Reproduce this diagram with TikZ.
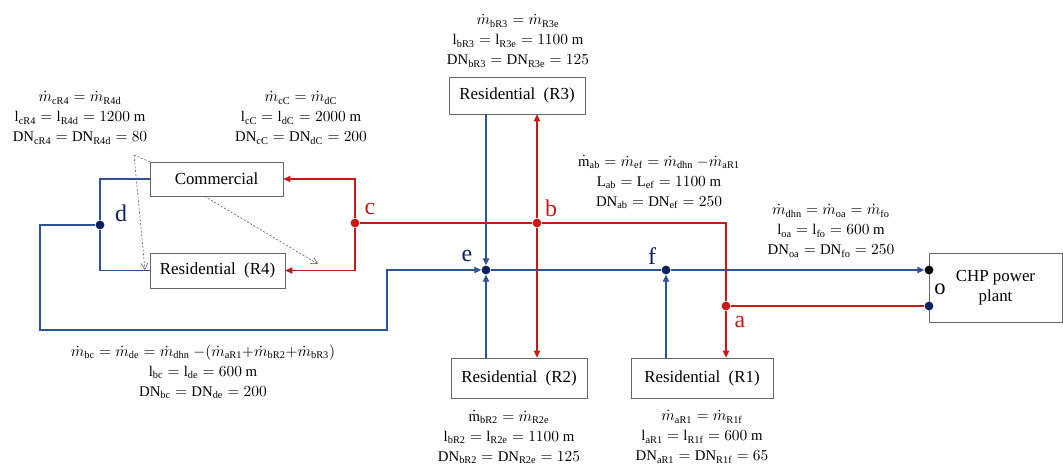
\documentclass[tikz,border=0pt]{standalone}
\usepackage{fontspec}
\setmainfont{Liberation Serif}
\usetikzlibrary{arrows.meta}

\definecolor{retblue}{RGB}{47,82,150}
\definecolor{dotblue}{RGB}{10,32,96}
\definecolor{supred}{RGB}{200,25,25}

% flow, length and diameter symbols
\newcommand{\mflow}[1]{\dot{m}_{\mathrm{#1}}}
\newcommand{\mflowup}[1]{\dot{\mathrm{m}}_{\mathrm{#1}}}
\newcommand{\plen}[1]{\mathrm{l}_{\mathrm{#1}}}
\newcommand{\pdn}[1]{\mathrm{DN}_{\mathrm{#1}}}

\begin{document}
\begin{tikzpicture}[x=0.025cm,y=-0.025cm,
    box/.style={draw=black!60,fill=white,inner sep=0pt,font=\fontsize{12}{14}\selectfont},
    joint/.style={circle,inner sep=0pt,minimum size=0.22cm},
    tag/.style={font=\fontsize{17}{17}\selectfont,inner sep=0pt},
    eqn/.style={align=center,inner sep=0pt,font=\fontsize{10.5}{14.2}\selectfont},
    ret/.style={draw=retblue,line width=0.9pt},
    sup/.style={draw=supred,line width=0.9pt},
    flow/.style={-{Triangle[length=5pt,width=4.5pt]}},
    hint/.style={draw=black!65,dash pattern=on 1.5pt off 1.2pt,line width=0.4pt,-{Straight Barb[length=4.5pt,width=5pt]}}]
        \useasboundingbox (0,0) rectangle (1063,466);
        \def \Boxes{com/216.5/179/3.325/0.85/Commercial, rfour/217.5/270.5/3.375/0.875/{Residential\ \ (R4)}, rthree/517/95.5/3.4/0.925/{Residential\ \ (R3)}, rtwo/519/378/3.4/1.0/{Residential\ \ (R2)}, rone/702/378/3.55/1.0/{Residential\ \ (R1)}}
        \def \Joints{d/100/225/dotblue, e/486/270/dotblue, f/666/270/dotblue, c/355/223/supred, b/537/223/supred, a/726/306/supred, oin/929/270/black, oout/929/306/dotblue}
        \foreach \id / \x / \y / \w / \h / \t in \Boxes{
            \node[box,minimum width=\w cm,minimum height=\h cm] (\id) at (\x, \y) {\t};
        }
        \node[box,minimum width=3.325cm,minimum height=1.725cm,align=center] (chp) at (995.5, 287.5) {CHP power\\plant};
        \foreach \id / \x / \y / \c in \Joints{
            \node[joint,fill=\c] (\id) at (\x, \y) {};
        }

        % junction letters
        \node[tag,text=dotblue] (lbld) at (121, 213) {d};
        \node[tag,text=dotblue] (lble) at (467, 256) {e};
        \node[tag,text=dotblue] (lblf) at (652, 256) {f};
        \node[tag,text=supred] (lblc) at (370, 209) {c};
        \node[tag,text=supred] (lblb) at (551, 208) {b};
        \node[tag,text=supred] (lbla) at (740, 322) {a};
        \node[tag,font=\fontsize{16}{16}\selectfont] (lblo) at (940, 289) {o};

        % return side
        \path[ret] (com.west) -| (d) |- (rfour.west);
        \coordinate (dbend) at (40, 330);
        \coordinate (ebend) at (387, 270);
        \path[ret,flow] (d) -| (dbend) -| (ebend) -- (e);
        \path[ret,flow] (rthree.south -| e) -- (e);
        \path[ret,flow] (rtwo.north -| e) -- (e);
        \path[ret,flow] (rone.north -| f) -- (f);
        \path[ret] (e) -- (f);
        \path[ret,flow] (f) -- (oin);

        % supply side
        \path[sup] (oout) -- (a);
        \path[sup] (a) |- (b) -- (c);
        \path[sup,flow] (a) -- (rone.north -| a);
        \path[sup,flow] (b) -- (rthree.south -| b);
        \path[sup,flow] (b) -- (rtwo.north -| b);
        \path[sup,flow] (c) |- (com.east);
        \path[sup,flow] (c) |- (rfour.east);

        % pipe data
        \node[eqn] (eqrfour) at (80, 118) {$\mflow{cR4} = \mflow{R4d}$\\$\plen{cR4} = \plen{R4d} = 1200\ \mathrm{m}$\\$\pdn{cR4} = \pdn{R4d} = 80$};
        \node[eqn] (eqcom) at (301, 118) {$\mflow{cC} = \mflow{dC}$\\$\plen{cC} = \plen{dC} = 2000\ \mathrm{m}$\\$\pdn{cC} = \pdn{dC} = 200$};
        \node[eqn] (eqrthree) at (518, 41) {$\mflow{bR3} = \mflow{R3e}$\\$\plen{bR3} = \plen{R3e} = 1100\ \mathrm{m}$\\$\pdn{bR3} = \pdn{R3e} = 125$};
        \node[eqn] (eqab) at (659, 182) {$\mflowup{ab} = \mflow{ef} = \mflow{dhn}\ {-}\mflow{aR1}$\\$\mathrm{L}_{\mathrm{ab}} = \mathrm{L}_{\mathrm{ef}} = 1100\ \mathrm{m}$\\$\pdn{ab} = \pdn{ef} = 250$};
        \node[eqn] (eqoa) at (831, 231) {$\mflow{dhn} = \mflow{oa} = \mflow{fo}$\\$\plen{oa} = \plen{fo} = 600\ \mathrm{m}$\\$\pdn{oa} = \pdn{fo} = 250$};
        \node[eqn] (eqbc) at (203, 372) {$\mflow{bc} = \mflow{de} = \mflow{dhn}\ {-}(\mflow{aR1}{+}\mflow{bR2}{+}\mflow{bR3})$\\$\plen{bc} = \plen{de} = 600\ \mathrm{m}$\\$\pdn{bc} = \pdn{de} = 200$};
        \node[eqn] (eqrtwo) at (509, 437) {$\mflowup{bR2} = \mflow{R2e}$\\$\plen{bR2} = \plen{R2e} = 1100\ \mathrm{m}$\\$\pdn{bR2} = \pdn{R2e} = 125$};
        \node[eqn] (eqrone) at (702, 437) {$\mflow{aR1} = \mflow{R1f}$\\$\plen{aR1} = \plen{R1f} = 600\ \mathrm{m}$\\$\pdn{aR1} = \pdn{R1f} = 65$};

        % pointers from the R4 / commercial data
        \coordinate (hintfrom) at (134, 155);
        \coordinate (hintr) at (145, 270);
        \coordinate (hintc) at (318, 264);
        \draw[hint,-] (hintfrom) -- (com.north west);
        \draw[hint] (hintfrom) -- (hintr);
        \draw[hint] (com.south) ++(-12,0) -- (hintc);
    \end{tikzpicture}
\end{document}
